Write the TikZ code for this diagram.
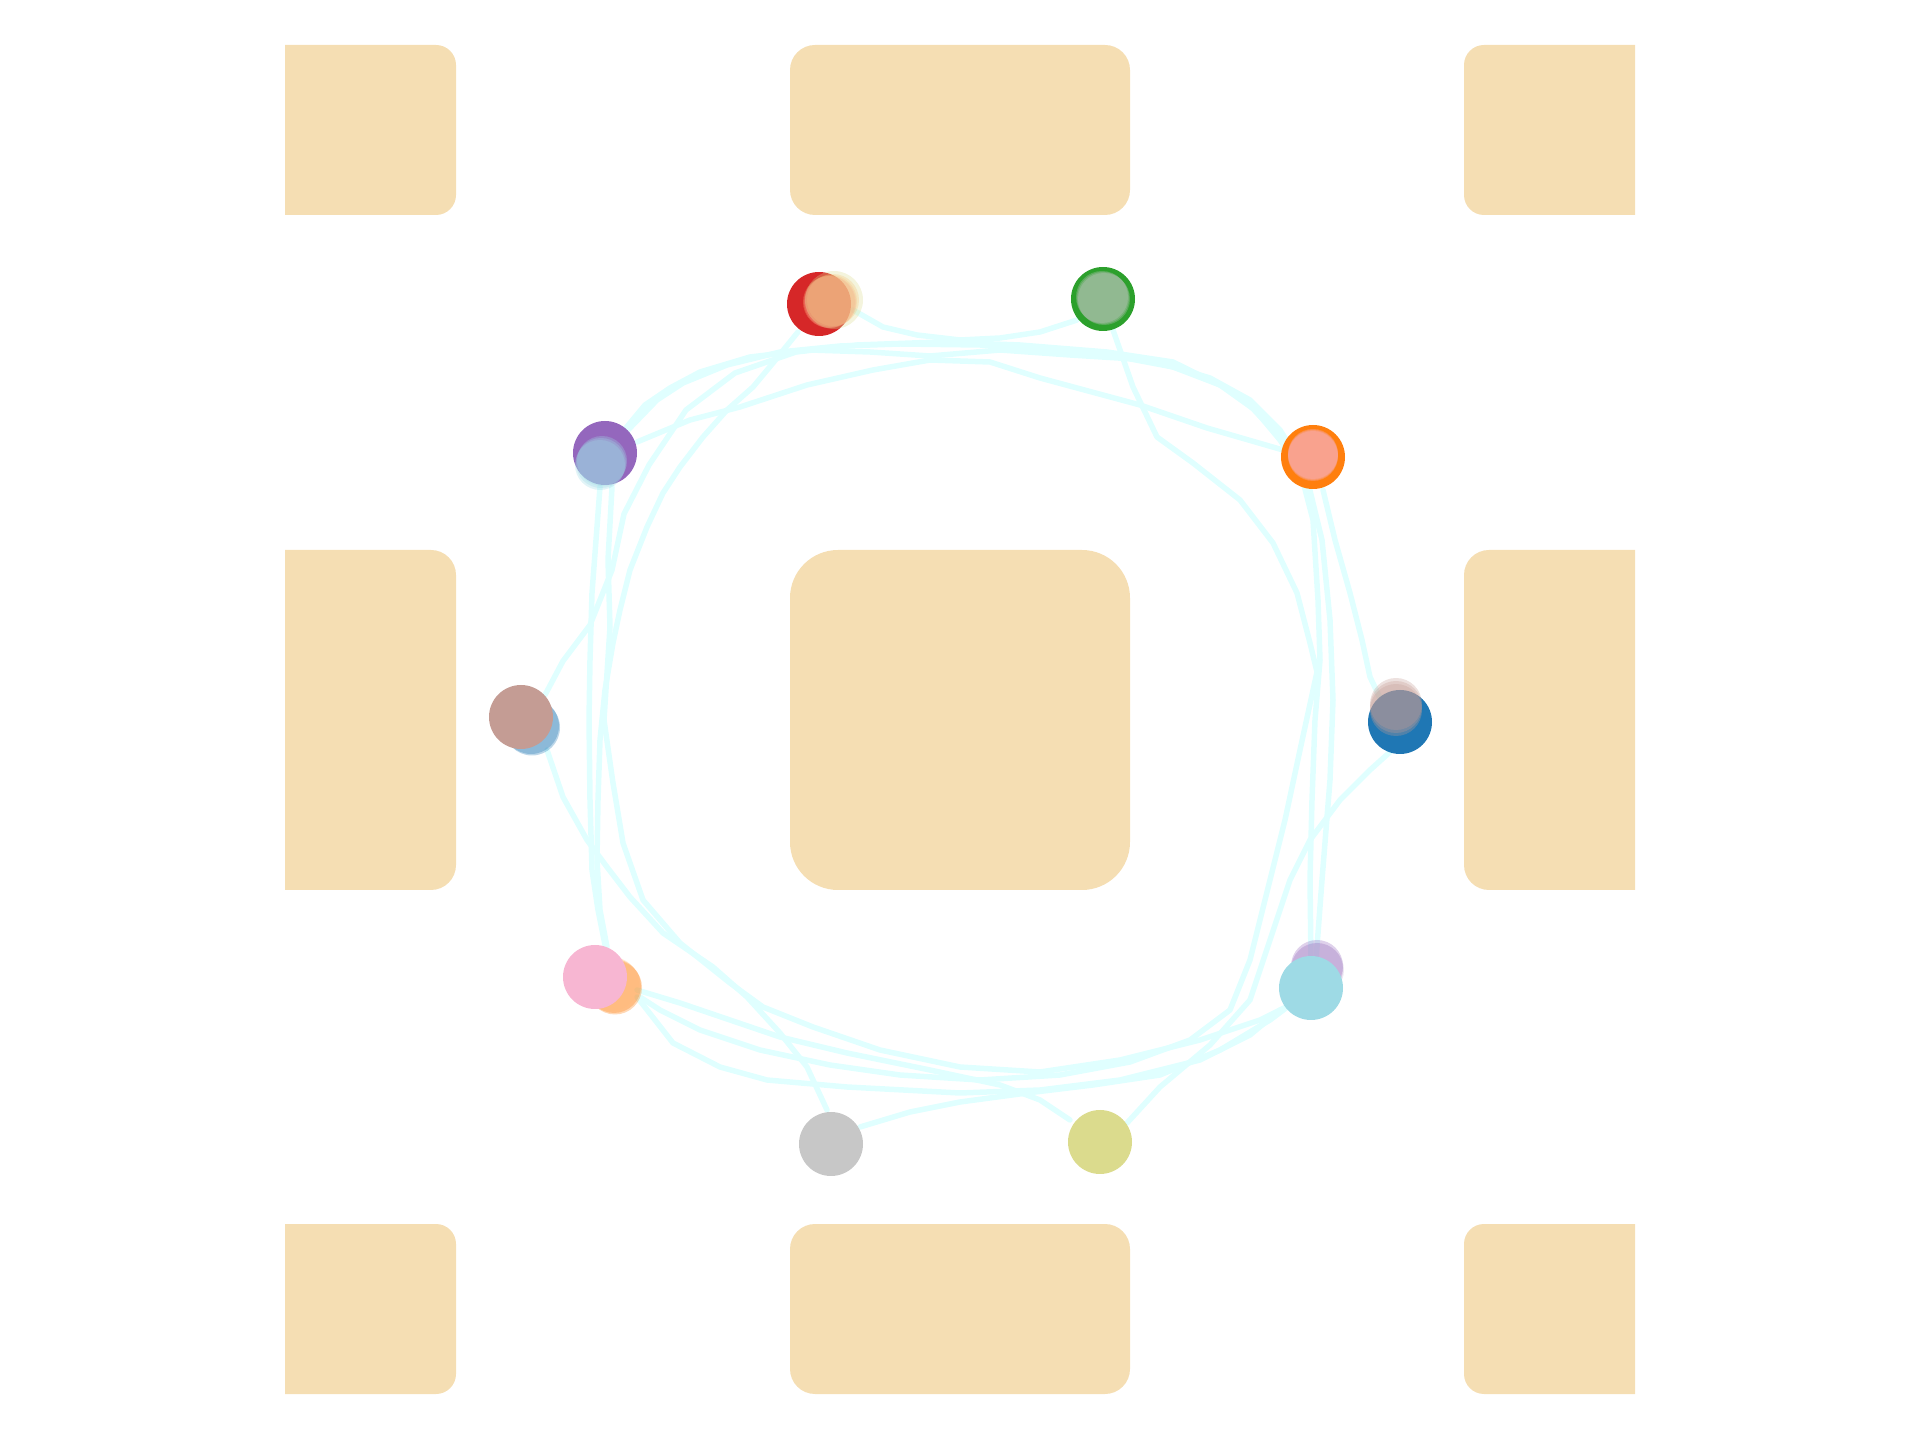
\documentclass[tikz,border=0pt]{standalone}
\definecolor{wheat}{HTML}{F5DEB3}
\definecolor{lightcyan}{HTML}{E0FFFF}
\definecolor{tabred}{HTML}{D62728}
\definecolor{tabgreen}{HTML}{2CA02C}
\definecolor{taborange}{HTML}{FF7F0E}
\definecolor{tabpurple}{HTML}{9467BD}
\definecolor{tabblue}{HTML}{1F77B4}
\definecolor{tabbrownl}{HTML}{C49C94}
\definecolor{tabpinkl}{HTML}{F7B6D2}
\definecolor{tabgrayl}{HTML}{C7C7C7}
\definecolor{tabolivel}{HTML}{DBDB8D}
\definecolor{tabcyanl}{HTML}{9EDAE5}
\definecolor{tabbluel}{HTML}{AEC7E8}
\definecolor{tabpeach}{HTML}{FFBB78}
\definecolor{tabsalmon}{HTML}{FF9896}
\definecolor{tablavender}{HTML}{C5B0D5}
\begin{document}
\begin{tikzpicture}[x=0.1mm,y=-0.1mm,
    block/.style={fill=wheat},
    traj/.style={draw=lightcyan,line width=0.55mm,line join=round,line cap=round},
    car/.style={fill=#1},
    ghost/.style={fill=#1,fill opacity=0.3}]
    \useasboundingbox (0,0) rectangle (1920,1440);
    % Blocks, cut at the plot edges
    \begin{scope}
        \clip (285,0) rectangle (1635,1440);
        \fill[block,rounded corners=2mm] (200,45) rectangle (456,215);
        \fill[block,rounded corners=2.5mm] (790,45) rectangle (1130,215);
        \fill[block,rounded corners=2mm] (1464,45) rectangle (1720,215);
        \fill[block,rounded corners=2.5mm] (200,550) rectangle (456,890);
        \fill[block,rounded corners=4.8mm] (790,550) rectangle (1130,890);
        \fill[block,rounded corners=2.5mm] (1464,550) rectangle (1720,890);
        \fill[block,rounded corners=2mm] (200,1224) rectangle (456,1394);
        \fill[block,rounded corners=2.5mm] (790,1224) rectangle (1130,1394);
        \fill[block,rounded corners=2mm] (1464,1224) rectangle (1720,1394);
    \end{scope}
    % Trajectories
    \draw[traj] (798,332) -- (785,348) -- (773,363) -- (753,387) -- (727,410) -- (703,437) -- (680,467) -- (663,493) -- (647,527) -- (630,570) -- (620,610) -- (613,643) -- (605,690) -- (600,740) -- (598,800) -- (597,860) -- (600,910) -- (607,947);
    \draw[traj] (600,487) -- (597,527) -- (592,593) -- (590,660) -- (589,720) -- (590,800) -- (592,870) -- (598,910) -- (605,945);
    \draw[traj] (612,487) -- (608,560) -- (610,627) -- (604,720) -- (613,783) -- (623,843) -- (643,900) -- (680,943) -- (730,983) -- (763,1007) -- (813,1027) -- (880,1050) -- (960,1067) -- (1040,1072) -- (1120,1060) -- (1200,1040) -- (1260,1020) -- (1290,1005);
    \draw[traj] (547,750) -- (563,797) -- (587,840) -- (607,867) -- (630,897) -- (663,933) -- (713,967) -- (747,997) -- (780,1033) -- (807,1067) -- (827,1110);
    \draw[traj] (545,695) -- (563,661) -- (590,625) -- (612,570) -- (624,514) -- (649,465) -- (686,410) -- (735,373) -- (796,352) -- (857,345) -- (940,342) -- (1020,345) -- (1107,352) -- (1173,362) -- (1240,395) -- (1273,430) -- (1292,448);
    \draw[traj] (637,442) -- (690,420) -- (740,407) -- (807,385) -- (873,370) -- (930,360) -- (990,362) -- (1040,378) -- (1140,405) -- (1207,428) -- (1283,450);
    \draw[traj] (628,430) -- (657,400) -- (683,383) -- (727,365) -- (780,352) -- (840,346) -- (900,344) -- (980,345) -- (1060,350) -- (1120,357) -- (1173,367) -- (1220,385) -- (1255,410) -- (1280,440) -- (1300,470) -- (1313,520) -- (1318,600) -- (1320,660) -- (1315,720) -- (1312,800) -- (1310,880) -- (1311,960);
    \draw[traj] (620,435) -- (645,405) -- (670,388) -- (700,372) -- (750,357) -- (810,350) -- (870,352) -- (930,356) -- (1000,350) -- (1070,355) -- (1150,360) -- (1210,378) -- (1250,400) -- (1280,430) -- (1305,470) -- (1322,540) -- (1330,620) -- (1333,700) -- (1330,780) -- (1322,880) -- (1316,960);
    \draw[traj] (853,310) -- (883,327) -- (917,335) -- (960,340) -- (1000,338) -- (1040,332) -- (1077,320);
    \draw[traj] (1113,330) -- (1133,387) -- (1157,437) -- (1193,463) -- (1240,500) -- (1273,543) -- (1297,593) -- (1310,643) -- (1317,672) -- (1300,750) -- (1285,820) -- (1265,900) -- (1250,960) -- (1230,1010) -- (1190,1040) -- (1130,1062) -- (1060,1075) -- (980,1080) -- (900,1075) -- (830,1065) -- (760,1050) -- (700,1030) -- (660,1010) -- (640,997);
    \draw[traj] (637,990) -- (680,1003) -- (780,1037) -- (847,1053) -- (930,1070) -- (1000,1085) -- (1040,1100) -- (1070,1120);
    \draw[traj] (860,1127) -- (910,1112) -- (960,1102) -- (1027,1093) -- (1093,1085) -- (1160,1075) -- (1220,1050) -- (1270,1020) -- (1290,1005);
    \draw[traj] (1127,1123) -- (1160,1087) -- (1210,1045) -- (1250,1000) -- (1270,940) -- (1290,880) -- (1310,840) -- (1340,800) -- (1370,770) -- (1390,752);
    \draw[traj] (1323,490) -- (1335,540) -- (1350,593) -- (1362,640) -- (1370,677) -- (1380,698);
    \draw[traj] (637,997) -- (673,1043) -- (720,1067) -- (767,1080) -- (847,1087) -- (960,1093) -- (1040,1090) -- (1120,1080) -- (1200,1060) -- (1250,1035) -- (1280,1010);
    % Vehicles and their faded trails
    \fill[car=tabred] (819,304) circle[radius=3.2mm];
    \foreach \d in {0,2,4}
        \fill[ghost=tabpeach] (829+\d,302-\d/2) circle[radius=2.6mm];
    \fill[ghost=tabsalmon] (830,302) circle[radius=2.6mm];
    \fill[ghost=tabolivel] (834,300) circle[radius=2.9mm];
    \fill[car=tabgreen] (1103,299) circle[radius=3.2mm];
    \foreach \d in {0,2,4}
        \fill[ghost=tabgrayl] (1102+\d/2,297+\d/2) circle[radius=2.6mm];
    \fill[car=tabpurple] (605,453) circle[radius=3.2mm];
    \foreach \d in {0,4,8}
        \fill[ghost=tabcyanl] (602-\d/4,461+\d/2) circle[radius=2.5mm];
    \fill[car=taborange] (1313,457) circle[radius=3.2mm];
    \foreach \d in {0,2,4}
        \fill[ghost=tabpinkl] (1313,454+\d/2) circle[radius=2.5mm];
    \foreach \d in {0,3}
        \fill[ghost=tabblue] (531+\d/3,726+\d/2) circle[radius=2.8mm];
    \fill[car=tabbrownl] (521,717) circle[radius=3.2mm];
    \fill[car=tabblue] (1400,722) circle[radius=3.2mm];
    \foreach \d in {0,3,6}
        \fill[ghost=tabbrownl] (1396,704+\d) circle[radius=2.6mm];
    \foreach \d in {0,3}
        \fill[ghost=taborange] (614+\d/3,986+\d/2) circle[radius=2.7mm];
    \fill[ghost=tabpeach] (612,984) circle[radius=2.7mm];
    \fill[car=tabpinkl] (595,977) circle[radius=3.2mm];
    \foreach \d in {0,3}
        \fill[ghost=tabpurple] (1317,966+\d) circle[radius=2.6mm];
    \fill[ghost=tablavender] (1318,970) circle[radius=2.6mm];
    \fill[car=tabcyanl] (1311,988) circle[radius=3.2mm];
    \fill[car=tabgrayl] (831,1144) circle[radius=3.2mm];
    \fill[car=tabolivel] (1100,1142) circle[radius=3.2mm];
\end{tikzpicture}
\end{document}
